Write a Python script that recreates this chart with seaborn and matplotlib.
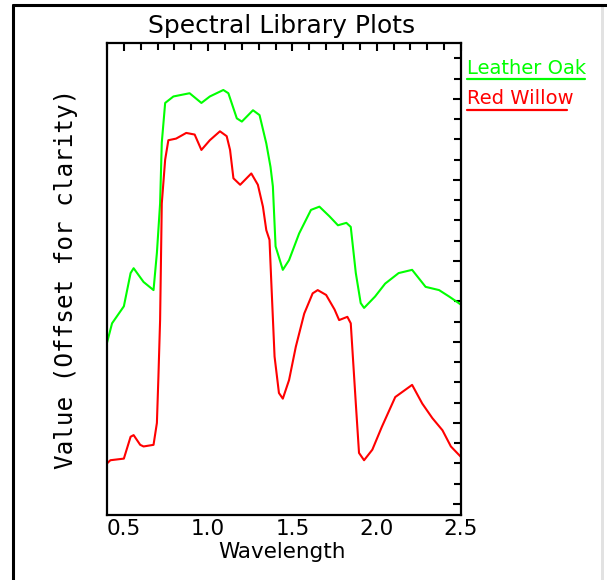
import numpy as np
import pandas as pd
import matplotlib
matplotlib.use("Agg")
import matplotlib.pyplot as plt
import seaborn as sns
from matplotlib.lines import Line2D
from matplotlib.patches import Rectangle
from matplotlib.ticker import MultipleLocator

# Spectra (wavelength, offset value)
oak_wl = [0.40, 0.43, 0.50, 0.54, 0.558, 0.617, 0.676, 0.696, 0.715, 0.725,
          0.745, 0.794, 0.89, 0.96, 1.01, 1.09, 1.12, 1.17, 1.20, 1.266,
          1.305, 1.345, 1.37, 1.384, 1.40, 1.443, 1.48, 1.54, 1.61, 1.66,
          1.72, 1.77, 1.82, 1.846, 1.876, 1.905, 1.925, 1.99, 2.05, 2.13,
          2.21, 2.29, 2.37, 2.43, 2.50]
oak_val = [1.99, 2.23, 2.44, 2.85, 2.91, 2.74, 2.64, 3.10, 3.71, 4.46,
           4.95, 5.03, 5.07, 4.95, 5.03, 5.11, 5.07, 4.76, 4.72, 4.86,
           4.80, 4.45, 4.16, 3.92, 3.18, 2.89, 3.01, 3.34, 3.63, 3.67,
           3.55, 3.44, 3.47, 3.42, 2.85, 2.48, 2.42, 2.56, 2.72, 2.85,
           2.89, 2.68, 2.64, 2.56, 2.46]

willow_wl = [0.40, 0.42, 0.50, 0.54, 0.558, 0.597, 0.617, 0.676, 0.696, 0.705,
             0.715, 0.725, 0.745, 0.764, 0.81, 0.87, 0.92, 0.96, 1.01, 1.07,
             1.11, 1.13, 1.15, 1.19, 1.256, 1.295, 1.325, 1.345, 1.364, 1.374,
             1.394, 1.42, 1.443, 1.48, 1.52, 1.57, 1.62, 1.65, 1.70, 1.75,
             1.777, 1.826, 1.846, 1.876, 1.895, 1.925, 1.974, 2.03, 2.11, 2.17,
             2.21, 2.27, 2.33, 2.39, 2.44, 2.50]
willow_val = [0.50, 0.54, 0.56, 0.83, 0.85, 0.73, 0.71, 0.73, 1.00, 1.57,
              2.27, 3.71, 4.25, 4.49, 4.51, 4.58, 4.56, 4.37, 4.49, 4.60,
              4.54, 4.37, 4.02, 3.94, 4.08, 3.94, 3.67, 3.38, 3.26, 2.77,
              1.82, 1.37, 1.30, 1.53, 1.94, 2.35, 2.60, 2.64, 2.58, 2.40,
              2.27, 2.31, 2.23, 1.24, 0.63, 0.54, 0.67, 0.95, 1.32, 1.41,
              1.47, 1.24, 1.06, 0.91, 0.71, 0.58]

names = ["Leather Oak", "Red Willow"]
colors = ["#00ff00", "#ff0000"]

df = pd.concat([
    pd.DataFrame({"Wavelength": oak_wl, "Value": oak_val, "Spectrum": names[0]}),
    pd.DataFrame({"Wavelength": willow_wl, "Value": willow_val, "Spectrum": names[1]}),
])

sns.set_style("white")
plt.rcParams["font.family"] = ["DejaVu Sans"]
plt.rcParams["text.color"] = "black"
plt.rcParams["axes.labelcolor"] = "black"

fig = plt.figure(figsize=(6.07, 5.80), dpi=100)
ax = fig.add_axes([107 / 607, 65 / 580, 354 / 607, 472 / 580])

sns.lineplot(data=df, x="Wavelength", y="Value", hue="Spectrum",
             palette=colors, hue_order=names, linewidth=1.5,
             legend=False, ax=ax, sort=False, estimator=None)

ax.set_xlim(0.4, 2.5)
ax.set_ylim(-0.136, 5.69)
ax.xaxis.set_major_locator(MultipleLocator(0.5))
ax.xaxis.set_minor_locator(MultipleLocator(0.1))
ax.yaxis.set_major_locator(MultipleLocator(1.0))
ax.yaxis.set_minor_locator(MultipleLocator(0.25))
ax.tick_params(which="both", direction="in", top=True, right=True,
               width=1.5, labelsize=15.5, colors="black")
ax.tick_params(which="major", length=6)
ax.tick_params(which="minor", length=5)
ax.tick_params(axis="x", pad=3)
ax.set_yticklabels([])
for s in ax.spines.values():
    s.set_linewidth(1.6)
    s.set_color("black")

ax.set_xlabel("Wavelength", fontsize=15.5)
ax.xaxis.set_label_coords(0.494, -0.058)
ax.set_ylabel("Value (Offset for clarity)", fontsize=17.5,
              family=["DejaVu Sans Mono", "DejaVu Sans"])
ax.yaxis.set_label_coords(-0.083, 0.5)
ax.text(0.494, 1.022, "Spectral Library Plots", fontsize=18,
        transform=ax.transAxes, ha="center", va="baseline")

# legend as coloured, underlined text to the right of the axes
ax.text(1.017, 0.935, names[0], color=colors[0], fontsize=14,
        transform=ax.transAxes, va="baseline", ha="left")
ax.text(1.017, 0.870, names[1], color=colors[1], fontsize=14,
        transform=ax.transAxes, va="baseline", ha="left")
fig.add_artist(Line2D([467 / 607, 585 / 607], [1 - 79 / 580, 1 - 79 / 580],
                      color=colors[0], lw=1.6))
fig.add_artist(Line2D([467 / 607, 567 / 607], [1 - 110 / 580, 1 - 110 / 580],
                      color=colors[1], lw=1.6))

# window frame
fig.add_artist(Line2D([13 / 607, 1.0], [1 - 5 / 580, 1 - 5 / 580], color="black", lw=2.2))
fig.add_artist(Line2D([13 / 607, 13 / 607], [0, 1 - 5 / 580], color="black", lw=2.2))
fig.add_artist(Rectangle((601 / 607, 0), 3 / 607, 1 - 7 / 580,
                         transform=fig.transFigure, color="#e2e2e2", lw=0))

fig.savefig("out.png", dpi=100)
